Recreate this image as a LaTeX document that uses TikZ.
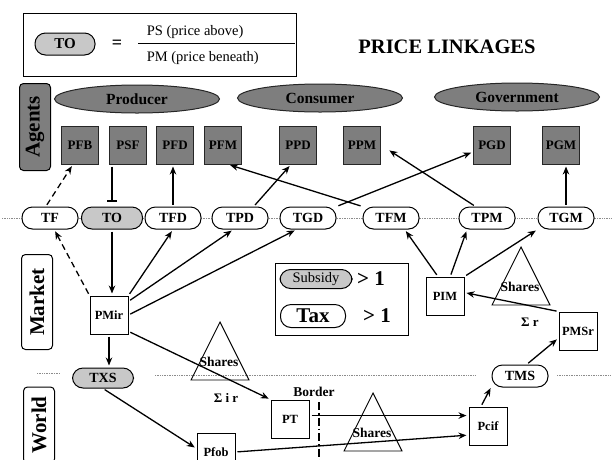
\documentclass[tikz,border=0pt]{standalone}
\usepackage{fontspec}
\setmainfont{Liberation Serif}
\usetikzlibrary{arrows.meta, shapes.geometric}
\definecolor{cdark}{HTML}{7E7E7E}
\definecolor{clight}{HTML}{C8C8C8}
\definecolor{cdot}{HTML}{8C8C8C}
\tikzset{
  every picture/.style={line width=1pt},
  agentsq/.style={draw=black!85, fill=cdark, minimum width=37pt, minimum height=38pt, inner sep=0pt, font=\fontsize{13}{13}\selectfont\bfseries},
  agentoval/.style={ellipse, draw=black!85, fill=cdark, minimum width=165pt, minimum height=28pt, inner sep=0pt, font=\fontsize{15.5}{15.5}\selectfont\bfseries},
  taxpill/.style={draw, fill=#1, rounded corners=10.5pt, minimum width=56pt, minimum height=22pt, inner sep=0pt, font=\fontsize{14}{14}\selectfont\bfseries},
  taxpill/.default=white,
  pricebox/.style={draw, fill=white, minimum width=38pt, minimum height=38pt, inner sep=0pt, font=\fontsize{12.5}{12.5}\selectfont\bfseries},
  sidelabel/.style={draw, rounded corners=4pt, rotate=90, minimum height=31pt, inner sep=0pt, font=\fontsize{21}{21}\selectfont\bfseries},
  arrow/.style={-{Stealth[length=8pt, width=6.5pt]}, line width=1.3pt, shorten >=2pt, shorten <=2pt},
  dasharrow/.style={arrow, dash pattern=on 6pt off 4pt},
  barline/.style={-{Bar[width=10pt]}, line width=1.3pt, shorten >=5pt, shorten <=2pt},
  dotline/.style={cdot, densely dotted, line width=0.7pt},
  title/.style={font=\fontsize{20.5}{20.5}\selectfont\bfseries},
  sharelbl/.style={font=\fontsize{13.5}{13.5}\selectfont\bfseries, inner sep=0pt},
}

\begin{document}
\begin{tikzpicture}[x=1pt, y=-1pt]
  \clip (0,0) rectangle (613,459);
  % definition of TO
  \node[draw, minimum width=273pt, minimum height=63pt] (defbox) at (159.5,44.5) {};
  \node[taxpill=clight, minimum width=60pt, font=\fontsize{15}{15}\selectfont\bfseries] (defTO) at (65,44) {TO};
  \node[font=\fontsize{18}{18}\selectfont\bfseries] (eq) at (117,44) {=};
  \node[anchor=west, font=\fontsize{14.5}{14.5}\selectfont] (num) at (143,32) {PS (price above)};
  \node[anchor=west, font=\fontsize{14.5}{14.5}\selectfont] (den) at (143,58) {PM (price beneath)};
  \draw (138,43) -- (295,43);
  \node[title] (head) at (447,47) {PRICE LINKAGES};

  % agents
  \node[sidelabel, fill=cdark, minimum width=87pt] (agents) at (35,127) {Agents};
  \foreach \nm/\x/\y in {Producer/137/99, Consumer/320/98, Government/517/97}
    \node[agentoval] (\nm) at (\x,\y) {\nm};
  \foreach \nm/\x in {PFB/80, PSF/128, PFD/175, PFM/223, PPD/298, PPM/362, PGD/492, PGM/561}
    \node[agentsq] (\nm) at (\x,145) {\nm};

  % tax wedges
  \draw[dotline] (2,218) -- (611,218);
  \foreach \nm/\x in {TF/50, TFD/173, TPD/240, TGD/308, TFM/391, TPM/487, TGM/566}
    \node[taxpill] (\nm) at (\x,218) {\nm};
  \node[taxpill=clight, minimum width=61pt] (TO) at (112,218) {TO};

  % market and world
  \draw[dotline] (37,373) -- (60,373);
  \draw[dotline] (155,375) -- (475,375);
  \draw[dotline] (557,375) -- (611,375);
  \node[sidelabel, fill=white, minimum width=95pt] (market) at (37,302) {Market};
  \node[sidelabel, fill=white, minimum width=76pt] (world) at (39,425) {World};
  \node[pricebox] (PMir) at (109,315) {PMir};
  \node[taxpill=clight, minimum width=61pt, minimum height=20pt] (TXS) at (103,378) {TXS};
  \node[pricebox] (PT) at (290,419) {PT};
  \node[pricebox] (Pfob) at (216,452) {Pfob};
  \node[pricebox] (Pcif) at (488,426) {Pcif};
  \node[taxpill] (TMS) at (520,376) {TMS};
  \node[pricebox] (PMSr) at (578,331) {PMSr};
  \node[pricebox] (PIM) at (445,296) {PIM};
  \foreach \ax/\ay in {220/322, 373/393, 521/247} {
    \draw[line width=0.9pt] (\ax,\ay) -- ++(29,58) -- ++(-58,0) -- cycle;
    \node[sharelbl] (shares\ax) at (\ax-1,\ay+40) {Shares};
  }
  \node[font=\fontsize{13}{13}\selectfont\bfseries] (sumir) at (226,398) {Σ i r};
  \node[font=\fontsize{13}{13}\selectfont\bfseries] (sumr) at (530,322) {Σ r};
  \node[font=\fontsize{13.5}{13.5}\selectfont\bfseries] (border) at (314,392) {Border};
  \draw[line width=1.4pt, dash pattern=on 8pt off 3pt on 1.5pt off 3pt] (319,402) -- (319,462);

  % subsidy and tax key
  \node[draw, minimum width=133pt, minimum height=72pt] (keybox) at (341.5,299) {};
  \node[taxpill=clight, minimum width=72pt, minimum height=19pt, font=\fontsize{14.5}{14.5}\selectfont] (subsidy) at (316,279) {Subsidy};
  \node[font=\fontsize{21}{21}\selectfont\bfseries] (gtsub) at (371,279) {> 1};
  \node[taxpill, minimum width=65pt, minimum height=23pt, font=\fontsize{21}{21}\selectfont\bfseries] (tax) at (313,316) {Tax};
  \node[font=\fontsize{21}{21}\selectfont\bfseries] (gttax) at (377,316) {> 1};

  % links up to the agents
  \draw[dasharrow] (TF.110) -- (PFB.250);
  \draw[barline] (PSF.south -| TO.north) -- (TO.north);
  \draw[arrow] (TFD.north) -- (TFD.north |- PFD.south);
  \draw[arrow] (TFM.north west) -- (PFM.285);
  \draw[arrow] (TPD.40) -- (PPD.250);
  \draw[arrow] (TGD.north east) -- (PGD.200);
  \draw[arrow, shorten >=10pt] (TPM.135) -- (PPM.east);
  \draw[arrow] (TGM.north) -- (TGM.north |- PGM.south);

  % links from the market price
  \draw[arrow] (TO.south) -- (TO.south |- PMir.north);
  \draw[dasharrow] (PMir.north west) -- (TF.290);
  \draw[arrow] (PMir.north east) -- (TFD.south);
  \draw[arrow] (PMir.35) -- (TPD.240);
  \draw[arrow] (PMir.east) -- (TGD.225);
  \draw[arrow] (PMir.-40) -- (PT.north west);
  \draw[arrow] (PMir.south) -- (PMir.south |- TXS.north);
  \draw[arrow] (TXS.south) -- (Pfob.170);

  % links through the world price
  \draw[arrow] (PT.10) -- (PT.10 -| Pcif.west);
  \draw[arrow] (Pfob.east) -- (Pcif.205);
  \draw[arrow] (Pcif.110) -- (TMS.200);
  \draw[arrow] (TMS.60) -- (PMSr.200);
  \draw[arrow] (PMSr.north west) -- (PIM.10);
  \draw[arrow] (PIM.110) -- (TFM.320);
  \draw[arrow] (PIM.75) -- (TPM.210);
  \draw[arrow] (PIM.north east) -- (TGM.south west);
\end{tikzpicture}
\end{document}
